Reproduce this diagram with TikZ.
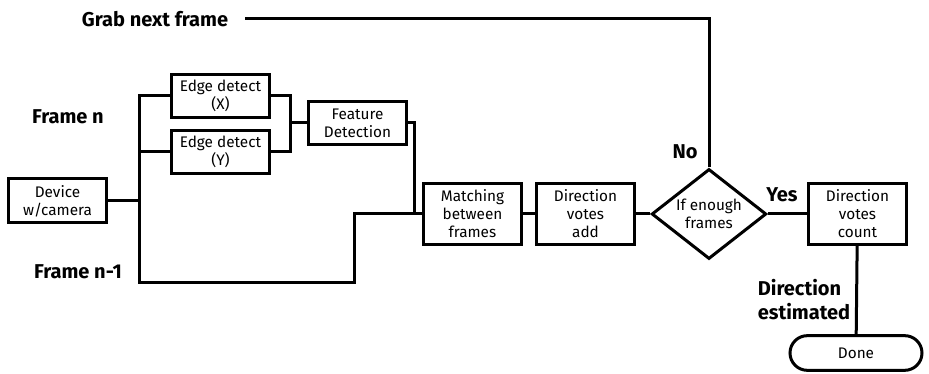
\documentclass[tikz,border=0pt]{standalone}
\usepackage{fontspec}
\setmainfont{Fira Sans}
\usetikzlibrary{shapes.geometric}

\begin{document}
\begin{tikzpicture}[x=0.75pt,y=0.75pt,line width=2.25pt,
  box/.style={draw, line width=2.25pt, align=center, font=\fontsize{11.5}{13.5}\selectfont, inner sep=1pt},
  small/.style={box, minimum width=74pt, minimum height=32pt},
  tall/.style={box, minimum width=73pt, minimum height=46pt},
  lbl/.style={font=\bfseries\fontsize{15}{18}\selectfont, align=left}]
\useasboundingbox (0,0) rectangle (929,374);
\node[lbl] (grab) at (155,355) {Grab next frame};
\node[lbl] (fn) at (68,257) {Frame n};
\node[lbl] (fn1) at (78,102) {Frame n-1};
\node[small, minimum height=33pt] (dev) at (57.5,173) {Device\\w/camera};
\node[small] (edx) at (220.5,278) {Edge detect\\(X)};
\node[small] (edy) at (220.5,222) {Edge detect\\(Y)};
\node[small] (feat) at (357.5,251) {Feature\\Detection};
\node[tall] (match) at (472.5,160) {Matching\\between\\frames};
\node[tall] (add) at (585.5,160) {Direction\\votes\\add};
\node[box, diamond, aspect=1.28, minimum width=86pt, minimum height=67.5pt, inner sep=0pt] (dec) at (709,160) {If enough\\frames};
\node[tall] (count) at (857.5,160) {Direction\\votes\\count};
\node[box, rounded corners=13pt, minimum width=99pt, minimum height=26pt] (done) at (856,21) {Done};
\node[lbl] (no) at (685,222) {No};
\node[lbl] (yes) at (782,179) {Yes};
\node[lbl] (est) at (804,74) {Direction\\estimated};
\coordinate (grabend) at (245,355);
\coordinate (bus) at (139,173);
\coordinate (busend) at (139,91);
\coordinate (joina) at (290,251);
\coordinate (joinb) at (414,160);
\coordinate (step) at (354,91);
\draw (dev.east) -- (bus);
\draw (edx.west) -| (busend) -- (step) |- (match.west);
\draw (edy.west) -- (edy.west -| bus);
\draw (edx.east) -| (joina) |- (edy.east);
\draw (joina) -- (feat.west);
\draw (feat.east) -| (joinb);
\draw (match) -- (add);
\draw (add) -- (dec);
\draw (dec) -- (count);
\draw (count) -- (done);
\draw (dec.north) |- (grabend);
\end{tikzpicture}
\end{document}
